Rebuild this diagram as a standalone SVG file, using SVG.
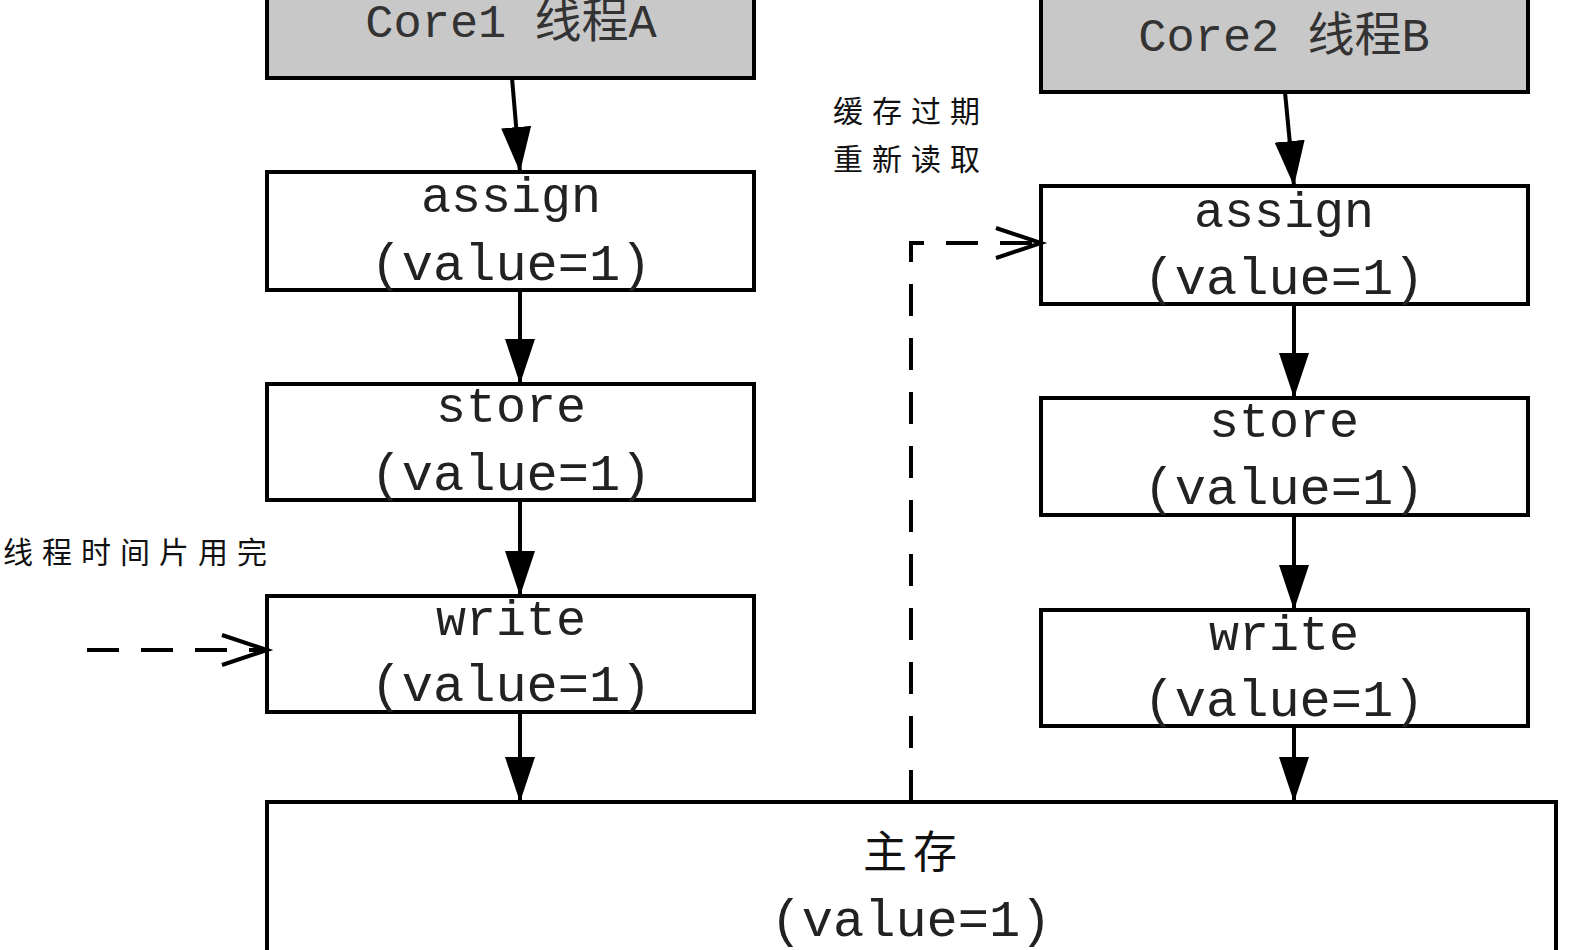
<svg xmlns="http://www.w3.org/2000/svg" width="1579" height="950" viewBox="0 0 1579 950">
<defs>
<style>
.box{fill:#ffffff;stroke:#000;stroke-width:4}
.core{fill:#c8c8c8;stroke:#000;stroke-width:4}
.t{font-family:"Liberation Mono","Noto Sans CJK SC",monospace;fill:#222;text-anchor:middle}
.w{font-size:50px}
.v{font-size:52px}
.ct{font-family:"Liberation Mono","Noto Sans CJK SC",monospace;font-size:47px;fill:#333;text-anchor:middle}
.lbl{font-family:"Noto Sans CJK SC",sans-serif;font-size:30px;fill:#111;letter-spacing:9px}
.solid{stroke:#000;stroke-width:4;fill:none;marker-end:url(#fa)}
.dash{stroke:#000;stroke-width:4;fill:none;stroke-dasharray:32 22;marker-end:url(#oa)}
</style>
<marker id="fa" viewBox="0 0 45 30" refX="45" refY="15" markerWidth="45" markerHeight="30" markerUnits="userSpaceOnUse" orient="auto">
<path d="M0,0 L45,15 L0,30 z" fill="#000"/>
</marker>
<marker id="oa" viewBox="-2 -2 49 34" refX="45" refY="15" markerWidth="49" markerHeight="34" markerUnits="userSpaceOnUse" orient="auto" overflow="visible">
<path d="M0,0 L45,15 L0,30" fill="none" stroke="#000" stroke-width="4"/>
</marker>
</defs>
<rect width="1579" height="950" fill="#fff"/>

<g id="core1"><rect class="core" x="267" y="-20" width="487" height="98"/><text class="ct" x="511" y="37">Core1 线程A</text></g>
<g id="assignA"><rect class="box" x="267" y="172" width="487" height="118"/><text class="t w" x="511" y="212">assign</text><text class="t v" x="511" y="280">(value=1)</text></g>
<g id="storeA"><rect class="box" x="267" y="384" width="487" height="116"/><text class="t w" x="511" y="422">store</text><text class="t v" x="511" y="490">(value=1)</text></g>
<g id="writeA"><rect class="box" x="267" y="596" width="487" height="116"/><text class="t w" x="511" y="635">write</text><text class="t v" x="511" y="701">(value=1)</text></g>

<g id="core2"><rect class="core" x="1041" y="-20" width="487" height="112"/><text class="ct" x="1284" y="51">Core2 线程B</text></g>
<g id="assignB"><rect class="box" x="1041" y="186" width="487" height="118"/><text class="t w" x="1284" y="227">assign</text><text class="t v" x="1284" y="294">(value=1)</text></g>
<g id="storeB"><rect class="box" x="1041" y="398" width="487" height="117"/><text class="t w" x="1284" y="437">store</text><text class="t v" x="1284" y="504">(value=1)</text></g>
<g id="writeB"><rect class="box" x="1041" y="610" width="487" height="116"/><text class="t w" x="1284" y="650">write</text><text class="t v" x="1284" y="716">(value=1)</text></g>

<g id="main"><rect class="box" x="267" y="802" width="1289" height="200"/><text class="lbl" x="913" y="868" text-anchor="middle" style="font-size:44px;letter-spacing:6px">主存</text><text class="t v" x="911" y="936">(value=1)</text></g>

<g id="label1"><text class="lbl" x="3" y="563">线程时间片用完</text></g>
<g id="label2"><text class="lbl" x="833" y="122">缓存过期</text><text class="lbl" x="833" y="170">重新读取</text></g>

<g id="connectors">
<line class="solid" x1="512" y1="78" x2="520" y2="172"/>
<line class="solid" x1="520" y1="290" x2="520" y2="384"/>
<line class="solid" x1="520" y1="500" x2="520" y2="596"/>
<line class="solid" x1="520" y1="712" x2="520" y2="802"/>
<line class="solid" x1="1285" y1="92" x2="1294" y2="186"/>
<line class="solid" x1="1294" y1="304" x2="1294" y2="398"/>
<line class="solid" x1="1294" y1="515" x2="1294" y2="610"/>
<line class="solid" x1="1294" y1="726" x2="1294" y2="802"/>
<line class="dash" x1="87" y1="650" x2="267" y2="650"/>
<polyline class="dash" points="911,802 911,243 1041,243"/>
</g>
</svg>
